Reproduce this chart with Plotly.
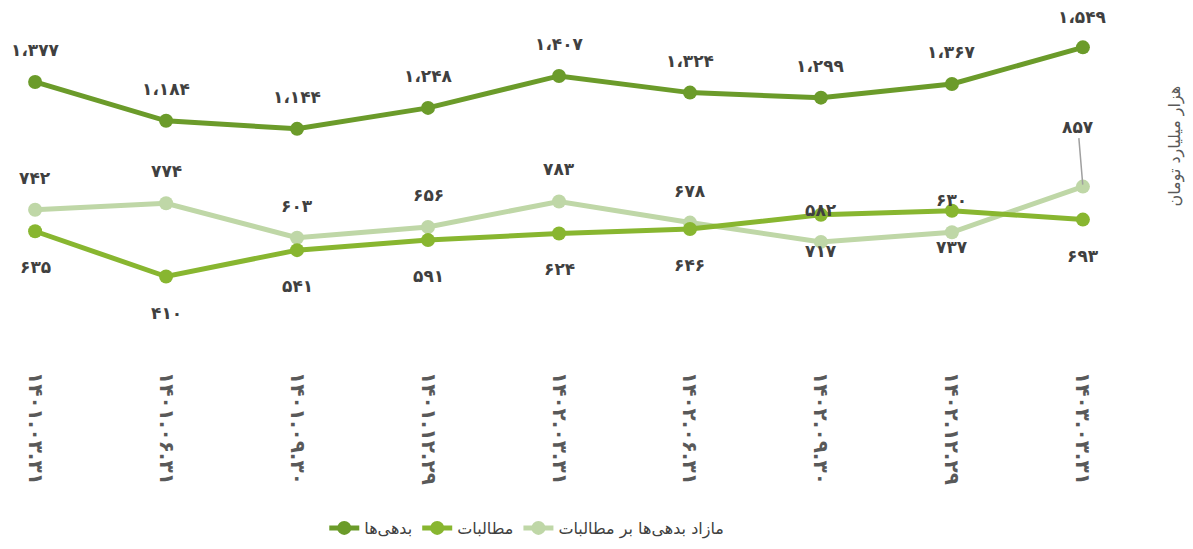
import plotly.graph_objects as go

dates = ["1401.03.31", "1401.06.31", "1401.09.30", "1401.12.29", "1402.03.31",
         "1402.06.31", "1402.09.30", "1402.12.29", "1403.03.31"]
debts = [1377, 1184, 1144, 1248, 1407, 1324, 1299, 1367, 1549]
receivables = [635, 410, 541, 591, 624, 646, 717, 737, 693]
surplus = [742, 774, 603, 656, 783, 678, 582, 630, 857]

names = ["بدهی‌ها", "مطالبات", "مازاد بدهی‌ها بر مطالبات"]
colors = ["#6B9B2A", "#88B630", "#BFD7A7"]
y_title = "هزار میلیارد تومان"

FA = str.maketrans("0123456789", "۰۱۲۳۴۵۶۷۸۹")


def fa_num(v):
    s = f"{v:,}".replace(",", "،")
    return s.translate(FA)


xs = [d.translate(FA) for d in dates]
idx = list(range(len(dates)))

fig = go.Figure()
for series, name, color in [(surplus, names[2], colors[2]),
                            (receivables, names[1], colors[1]),
                            (debts, names[0], colors[0])]:
    fig.add_trace(go.Scatter(
        x=idx, y=series, name=name, mode="lines+markers",
        line=dict(color=color, width=5),
        marker=dict(color=color, size=14),
        cliponaxis=False,
    ))

label_font = dict(family="DejaVu Sans", size=17, color="#404040")
annotations = []
for i, v in enumerate(debts):
    annotations.append(dict(x=i, y=v, text="<b>" + fa_num(v) + "</b>", showarrow=False,
                            yshift=30 if i == len(debts) - 1 else 32, font=label_font))
for i, v in enumerate(receivables):
    annotations.append(dict(x=i, y=v, text="<b>" + fa_num(v) + "</b>", showarrow=False,
                            yshift=-36, font=label_font))
for i, v in enumerate(surplus):
    if i == len(surplus) - 1:
        annotations.append(dict(x=i, y=v, text="<b>" + fa_num(v) + "</b>", showarrow=True,
                                arrowhead=0, arrowwidth=1.5, arrowcolor="#A0A0A0",
                                ax=-5, ay=-60, standoff=2, font=label_font))
    else:
        annotations.append(dict(x=i, y=v, text="<b>" + fa_num(v) + "</b>", showarrow=False,
                                yshift=32, font=label_font))

annotations.append(dict(xref="paper", yref="paper", x=1.074, y=0.63,
                        xanchor="center", yanchor="middle",
                        text=y_title, textangle=-90, showarrow=False,
                        font=dict(family="DejaVu Sans", size=16, color="#595959")))

fig.update_layout(
    width=1193, height=549,
    margin=dict(l=14, r=105, t=13, b=196),
    paper_bgcolor="white", plot_bgcolor="white",
    showlegend=True,
    legend=dict(orientation="h", x=0.47, xanchor="center", y=-0.5, yanchor="middle",
                traceorder="reversed",
                font=dict(family="DejaVu Sans", size=16, color="#404040")),
    annotations=annotations,
)
fig.update_xaxes(range=[-0.1, 8.1], tickmode="array", tickvals=idx,
                 ticktext=["<b>" + x + "</b>" for x in xs],
                 tickangle=90, showgrid=False, zeroline=False, showline=False, ticks="",
                 ticklabelstandoff=12,
                 tickfont=dict(family="DejaVu Sans", size=20, color="#595959"))
fig.update_yaxes(range=[0, 1680], showgrid=False, zeroline=False, showline=False,
                 showticklabels=False, ticks="")

fig.write_html("out.html")
